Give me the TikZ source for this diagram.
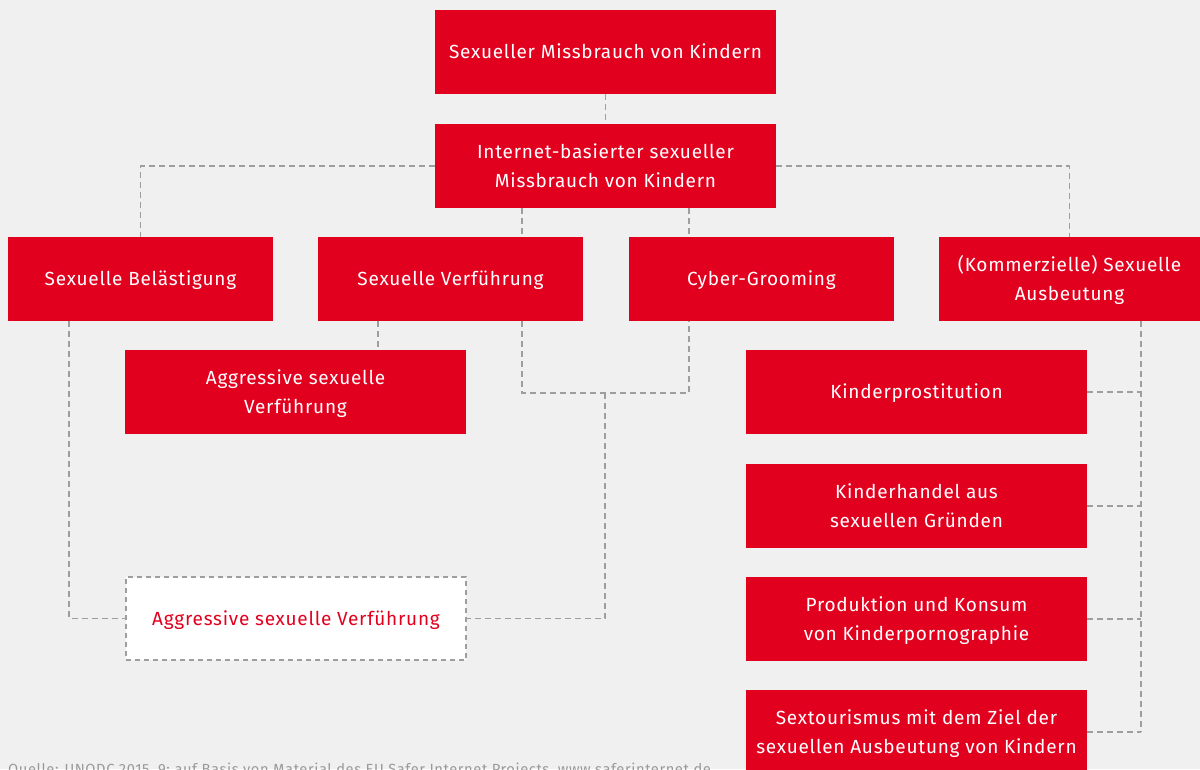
\documentclass[tikz,border=0pt]{standalone}
\usepackage{fontspec}
\setmainfont{Fira Sans}[LetterSpace=4]
\newfontfamily\capfont{Fira Sans}[LetterSpace=4]
\usetikzlibrary{calc}
\definecolor{bgc}{HTML}{F0F0F0}
\definecolor{redc}{HTML}{E2001F}
\definecolor{dashc}{HTML}{9E9E9E}
\definecolor{capc}{HTML}{9A9A9A}
\begin{document}
\begin{tikzpicture}[x=1pt,y=-1pt,
  box/.style={fill=redc, text=white, draw=none, minimum width=341pt, minimum height=84pt, align=center, inner sep=0pt, text height=13.5pt, text depth=-3.5pt, font=\fontsize{19}{29.5}\selectfont},
  two/.style={text height=43pt},
  sbox/.style={box, minimum width=265pt},
  wbox/.style={box, fill=white, text=redc, draw=dashc, dash pattern=on 5pt off 4pt, line width=1.4pt, minimum width=340pt, minimum height=83pt},
  conn/.style={draw=dashc, line width=1.5pt, dash pattern=on 6pt off 4pt},
]
\fill[bgc] (0,0) rectangle (1200,769);
\useasboundingbox (0,0) rectangle (1200,769);

\node[box] (top) at (605.5,52) {Sexueller Missbrauch von Kindern};
\node[box, two] (inet) at (605.5,166) {Internet-basierter sexueller\\Missbrauch von Kindern};
\node[sbox] (bel) at (140.5,279) {Sexuelle Belästigung};
\node[sbox] (verf) at (450.5,279) {Sexuelle Verführung};
\node[sbox] (cyber) at (761.5,279) {Cyber-Grooming};
\node[sbox, two, minimum width=261pt] (ausb) at (1069.5,279) {(Kommerzielle) Sexuelle\\Ausbeutung};
\node[box, two] (aggr) at (295.5,392) {Aggressive sexuelle\\Verführung};
\node[box] (prost) at (916.5,392) {Kinderprostitution};
\node[box, two] (handel) at (916.5,506) {Kinderhandel aus\\sexuellen Gründen};
\node[box, two] (porno) at (916.5,619) {Produktion und Konsum\\von Kinderpornographie};
\node[box, two] (tour) at (916.5,732) {Sextourismus mit dem Ziel der\\sexuellen Ausbeutung von Kindern};
\node[wbox] (waggr) at (296,618.5) {Aggressive sexuelle Verführung};

\node[anchor=base west, inner sep=0pt, text=capc, font=\capfont\fontsize{14.7}{16}\selectfont] (cap) at (8,774) {Quelle: UNODC 2015, 9; auf Basis von Material des EU Safer Internet Projects, www.saferinternet.de};

% connectors
\draw[conn] (top.south) -- (inet.north);
\draw[conn] (inet.west) -| (bel.north);
\draw[conn] (inet.east) -| (ausb.north);
\coordinate (i1) at ([xshift=-83.5pt]inet.south);
\coordinate (i2) at ([xshift=83.5pt]inet.south);
\draw[conn] (i1) -- (i1 |- verf.north);
\draw[conn] (i2) -- (i2 |- cyber.north);
\coordinate (b1) at ([xshift=-71.5pt]bel.south);
\draw[conn] (b1) |- (waggr.west);
\coordinate (v1) at ([xshift=-72.5pt]verf.south);
\draw[conn] (v1) -- (v1 |- aggr.north);
\coordinate (v2) at ([xshift=71.5pt]verf.south);
\coordinate (c1) at ([xshift=-72.5pt]cyber.south);
\coordinate (j1) at (605,393);
\draw[conn] (v2) |- (j1) -| (c1);
\draw[conn] (j1) |- (waggr.east);
\coordinate (a1) at ([xshift=71.5pt]ausb.south);
\coordinate (aend) at (a1 |- tour.east);
\draw[conn] (a1) -- (aend);
\draw[conn] (prost.east) -- (prost.east -| a1);
\draw[conn] (handel.east) -- (handel.east -| a1);
\draw[conn] (porno.east) -- (porno.east -| a1);
\draw[conn] (tour.east) -- (aend);
\end{tikzpicture}
\end{document}
